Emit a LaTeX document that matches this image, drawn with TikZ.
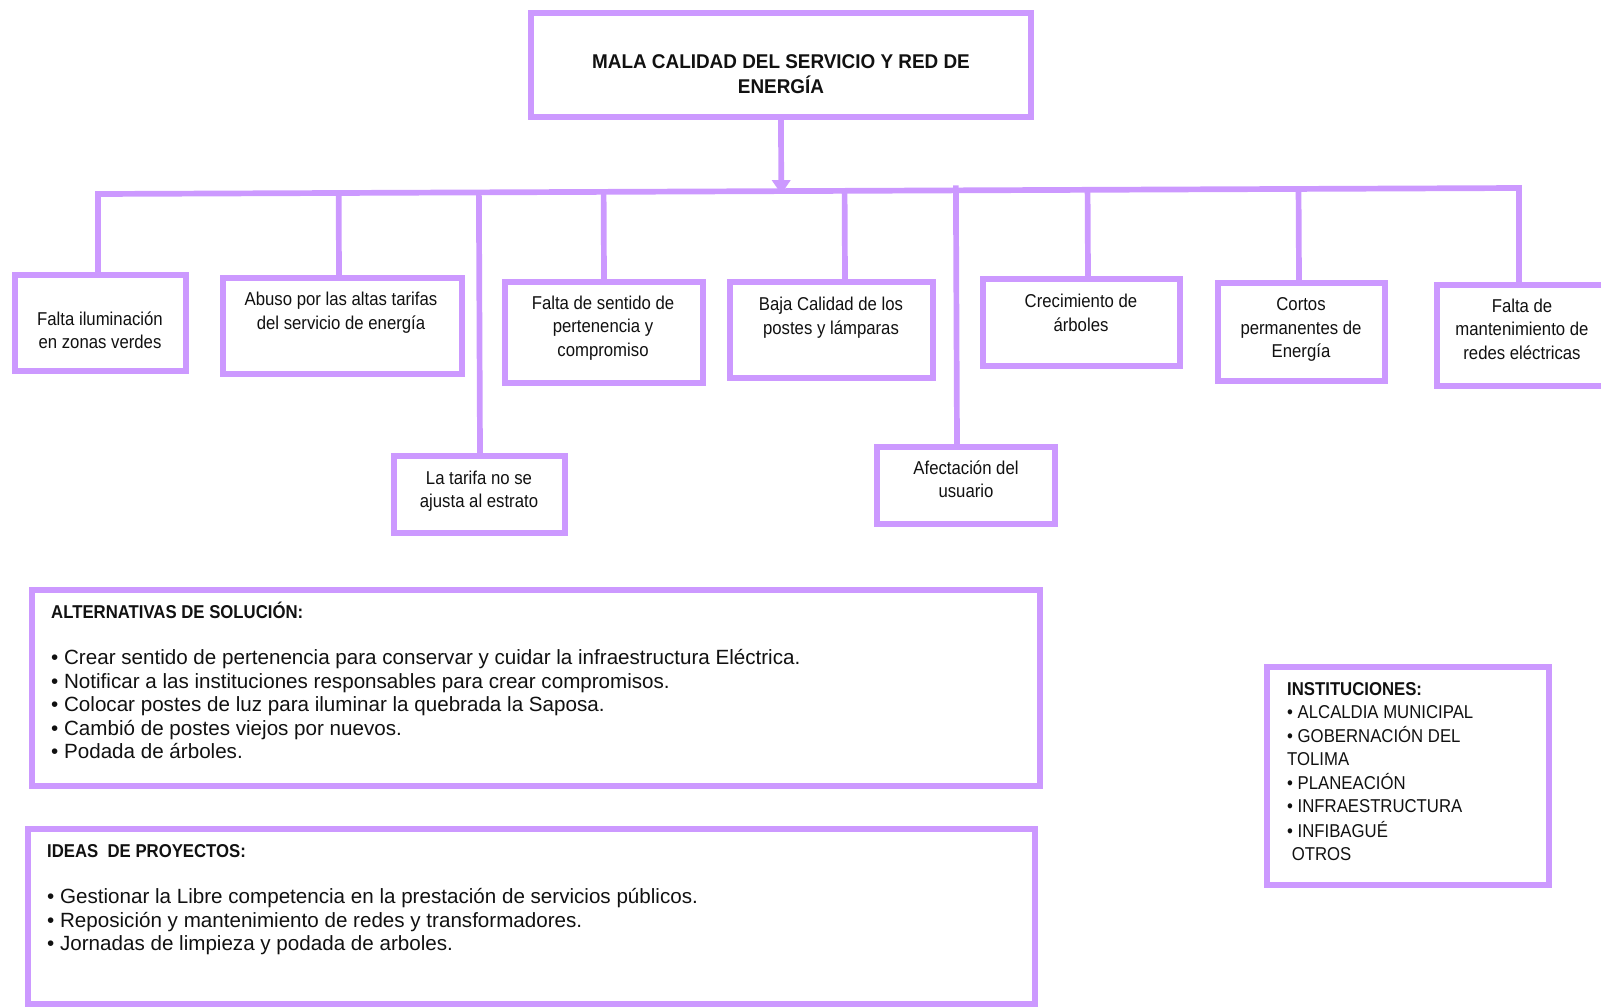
\documentclass[tikz,border=0pt]{standalone}
\usepackage{fontspec}
\setmainfont{Liberation Sans}
\newfontfamily\narrowf[FakeStretch=0.9]{Liberation Sans}
\newfontfamily\titlef[FakeStretch=0.95]{Liberation Sans}
\usetikzlibrary{arrows.meta,calc}
\definecolor{lila}{RGB}{204,153,255}
\definecolor{ink}{RGB}{17,17,17}
\tikzset{
  frame/.style={draw=lila, line width=6pt, fill=white, rectangle, inner sep=0pt},
  link/.style={draw=lila, line width=5.7pt},
  ctext/.style={align=center, inner sep=0pt, text=ink, font=\narrowf\fontsize{18.6}{23.5}\selectfont},
  ttext/.style={align=center, inner sep=0pt, text=ink, font=\titlef\bfseries\fontsize{19.9}{25.5}\selectfont},
  head/.style={anchor=north west, inner sep=0pt, text=ink, font=\narrowf\bfseries\fontsize{18.6}{23.5}\selectfont},
  listtext/.style={anchor=north west, align=left, inner sep=0pt, text=ink, font=\fontsize{20.6}{23.5}\selectfont},
  insttext/.style={anchor=north west, align=left, inner sep=0pt, text=ink, font=\narrowf\fontsize{18.6}{23}\selectfont}
}
\begin{document}
\begin{tikzpicture}[x=1pt,y=-1pt]
\useasboundingbox (0,0) rectangle (1601,1007);

% boxes
\node[frame, minimum width=500pt, minimum height=104pt] (top) at (781,65) {};
\node[frame, minimum width=171pt, minimum height=96pt] (b1) at (100.5,323) {};
\node[frame, minimum width=239pt, minimum height=96pt] (b2) at (342.5,326) {};
\node[frame, minimum width=171pt, minimum height=77pt] (b3) at (479.5,494.5) {};
\node[frame, minimum width=198pt, minimum height=101pt] (b4) at (604,332.5) {};
\node[frame, minimum width=203pt, minimum height=96pt] (b5) at (831.5,330) {};
\node[frame, minimum width=178pt, minimum height=77pt] (b6) at (966,485.5) {};
\node[frame, minimum width=197pt, minimum height=87pt] (b7) at (1081.5,322.5) {};
\node[frame, minimum width=167pt, minimum height=98pt] (b8) at (1301.5,332) {};
\node[frame, minimum width=170pt, minimum height=101pt] (b9) at (1522,335.5) {};
\node[frame, minimum width=1008pt, minimum height=196pt] (alt) at (536,688) {};
\node[frame, minimum width=1007pt, minimum height=175pt] (ideas) at (531.5,916.5) {};
\node[frame, minimum width=282pt, minimum height=218pt] (inst) at (1408,776) {};

% connector geometry
\coordinate (hl) at (98,194);
\coordinate (hr) at (1519,188);
\coordinate (d2) at ([xshift=-3.5pt]b2.north);
\coordinate (d3) at ([xshift=0.5pt]b3.north);
\coordinate (d4) at (b4.north);
\coordinate (d5) at ([xshift=13.5pt]b5.north);
\coordinate (d6) at ([xshift=-9pt]b6.north);
\coordinate (d7) at ([xshift=6.5pt]b7.north);
\coordinate (d8) at ([xshift=-2.5pt]b8.north);

\draw[link, line join=miter] ([xshift=-2.5pt]b1.north) -- (hl) -- (hr) -- ([xshift=-3pt]b9.north);
\draw[link] (d2) -- ($(hl)!(d2)!(hr)$);
\draw[link] (d3) -- ($(hl)!(d3)!(hr)$);
\draw[link] (d4) -- ($(hl)!(d4)!(hr)$);
\draw[link] (d5) -- ($(hl)!(d5)!(hr)$);
\draw[link] (d6) -- ($(hl)!(d6)!(hr)+(0,-5)$);
\draw[link] (d7) -- ($(hl)!(d7)!(hr)$);
\draw[link] (d8) -- ($(hl)!(d8)!(hr)$);
\draw[link, -{Triangle[width=18pt,length=14pt]}] (top.south) -- ($(hl)!(top.south)!(hr)+(0,3)$);

% texts
\node[ttext] (ttop) at (781,76) {\strut MALA CALIDAD DEL SERVICIO Y RED DE\\\strut ENERGÍA};
\node[ctext] (t1) at (100,332.5) {\strut Falta iluminación\\\strut en zonas verdes};
\node[ctext] (t2) at (341,313) {\strut Abuso por las altas tarifas\\\strut del servicio de energía};
\node[ctext] (t3) at (479,491.5) {\strut La tarifa no se\\\strut ajusta al estrato};
\node[ctext] (t4) at (603,328) {\strut Falta de sentido de\\\strut pertenencia y\\\strut compromiso};
\node[ctext] (t5) at (831,318) {\strut Baja Calidad de los\\\strut postes y lámparas};
\node[ctext] (t6) at (966,481.5) {\strut Afectación del\\\strut usuario};
\node[ctext] (t7) at (1081,315) {\strut Crecimiento de\\\strut árboles};
\node[ctext] (t8) at (1301,329.5) {\strut Cortos\\\strut permanentes de\\\strut Energía};
\node[ctext] (t9) at (1522,331) {\strut Falta de\\\strut mantenimiento de\\\strut redes eléctricas};

\node[head] (althead) at (51,602) {\strut ALTERNATIVAS DE SOLUCIÓN:};
\node[listtext] (altlist) at (51,648) {\strut • Crear sentido de pertenencia para conservar y cuidar la infraestructura Eléctrica.\\
\strut • Notificar a las instituciones responsables para crear compromisos.\\
\strut • Colocar postes de luz para iluminar la quebrada la Saposa.\\
\strut • Cambió de postes viejos por nuevos.\\
\strut • Podada de árboles.};

\node[head] (ideashead) at (47,841) {\strut IDEAS\hspace{0.5em}DE PROYECTOS:};
\node[listtext] (ideaslist) at (47,887) {\strut • Gestionar la Libre competencia en la prestación de servicios públicos.\\
\strut • Reposición y mantenimiento de redes y transformadores.\\
\strut • Jornadas de limpieza y podada de arboles.};

\node[insttext] (instlist) at (1287,679.6) {\strut\textbf{INSTITUCIONES:}\\
\strut • ALCALDIA MUNICIPAL\\
\strut • GOBERNACIÓN DEL\\
\strut TOLIMA\\
\strut • PLANEACIÓN\\
\strut • INFRAESTRUCTURA\\
\strut • INFIBAGUÉ\\
\strut\ OTROS};
\end{tikzpicture}
\end{document}
